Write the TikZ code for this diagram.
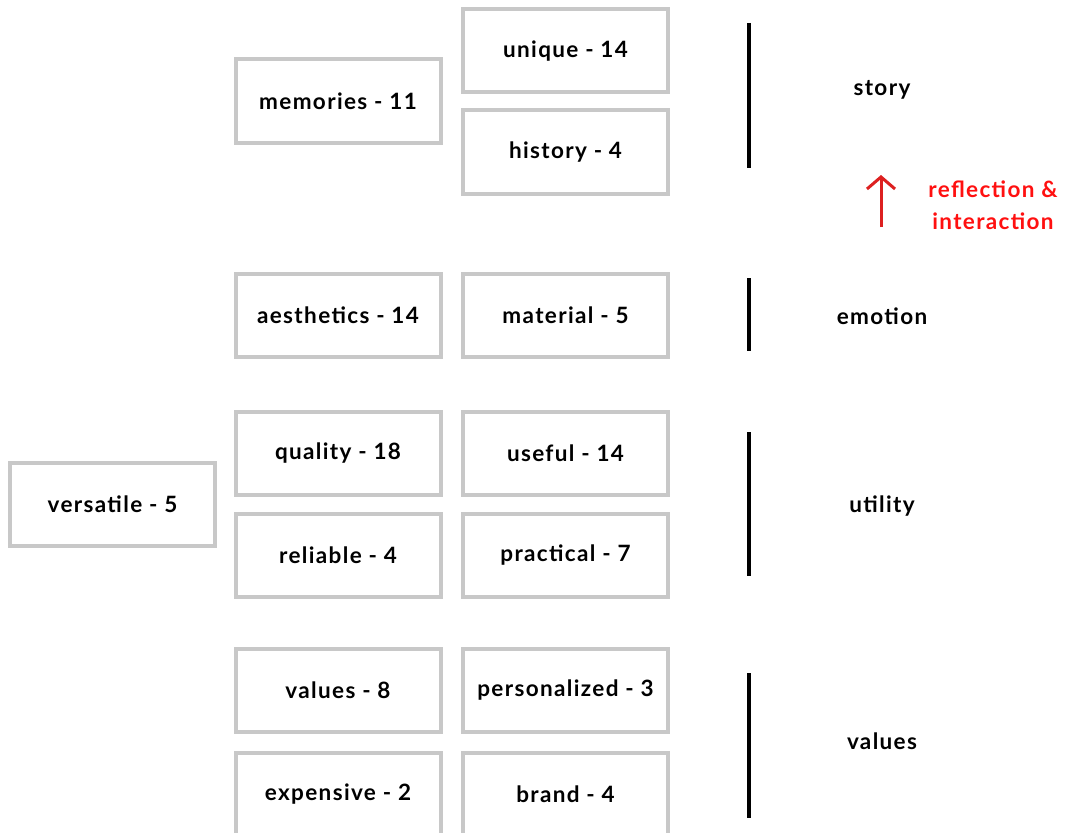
\documentclass[tikz,border=0pt]{standalone}
\usepackage{fontspec}
\setmainfont{Lato}[LetterSpace=6]
\usetikzlibrary{arrows.meta}
\definecolor{boxgray}{HTML}{C8C8C8}
\definecolor{arrowred}{HTML}{DD2020}
\definecolor{txtred}{HTML}{FF1010}
\tikzset{
  card/.style={draw=boxgray, line width=4pt, minimum width=205pt, minimum height=83pt, inner sep=0pt, font=\fontsize{22.5}{26}\selectfont\bfseries},
  cat/.style={font=\fontsize{22.5}{26}\selectfont\bfseries},
  bar/.style={line width=4pt, black},
  note/.style={align=center, text=txtred, font=\fontsize{22.5}{32}\selectfont\bfseries},
  uparrow/.style={arrowred, line width=3pt, -{Straight Barb[length=12pt,width=28pt,line width=3pt]}}
}
\begin{document}
\begin{tikzpicture}[x=1pt,y=-1pt]
\useasboundingbox (0,0) rectangle (1070,832);
\begin{scope}
\clip (0,0) rectangle (1070,832);
% story
\node[card] (memories) at (338,101) {memories - 11};
\node[card] (unique) at (565.5,51) {unique - 14};
\node[card] (history) at (565.5,152) {history - 4};
% emotion
\node[card] (aesthetics) at (338,315) {aesthetics - 14};
\node[card] (material) at (565.5,315) {material - 5};
% utility
\node[card] (versatile) at (112.5,504.5) {versatile - 5};
\node[card] (quality) at (338,453.5) {quality - 18};
\node[card] (useful) at (565.5,453) {useful - 14};
\node[card] (reliable) at (338,555.5) {reliable - 4};
\node[card] (practical) at (565.5,555.5) {practical - 7};
% values
\node[card] (values) at (338,690) {values - 8};
\node[card] (personalized) at (565.5,690) {personalized - 3};
\node[card] (expensive) at (338,794) {expensive - 2};
\node[card] (brand) at (565.5,794) {brand - 4};
\end{scope}
% bars
\draw[bar] (749,23) -- (749,168);
\draw[bar] (749,278) -- (749,351);
\draw[bar] (749,432) -- (749,576);
\draw[bar] (749,673) -- (749,818);
% category labels
\node[cat] (story) at (882,90) {story};
\node[cat] (emotion) at (882,316) {emotion};
\node[cat] (utility) at (882,506) {utility};
\node[cat] (valuescat) at (882,741) {values};
% arrow and note
\coordinate (arrlow) at (881,227);
\coordinate (arrhigh) at (881,175);
\draw[uparrow] (arrlow) -- (arrhigh);
\node[note] (reflection) at (993,205) {reflection \&\\interaction};
\end{tikzpicture}
\end{document}
